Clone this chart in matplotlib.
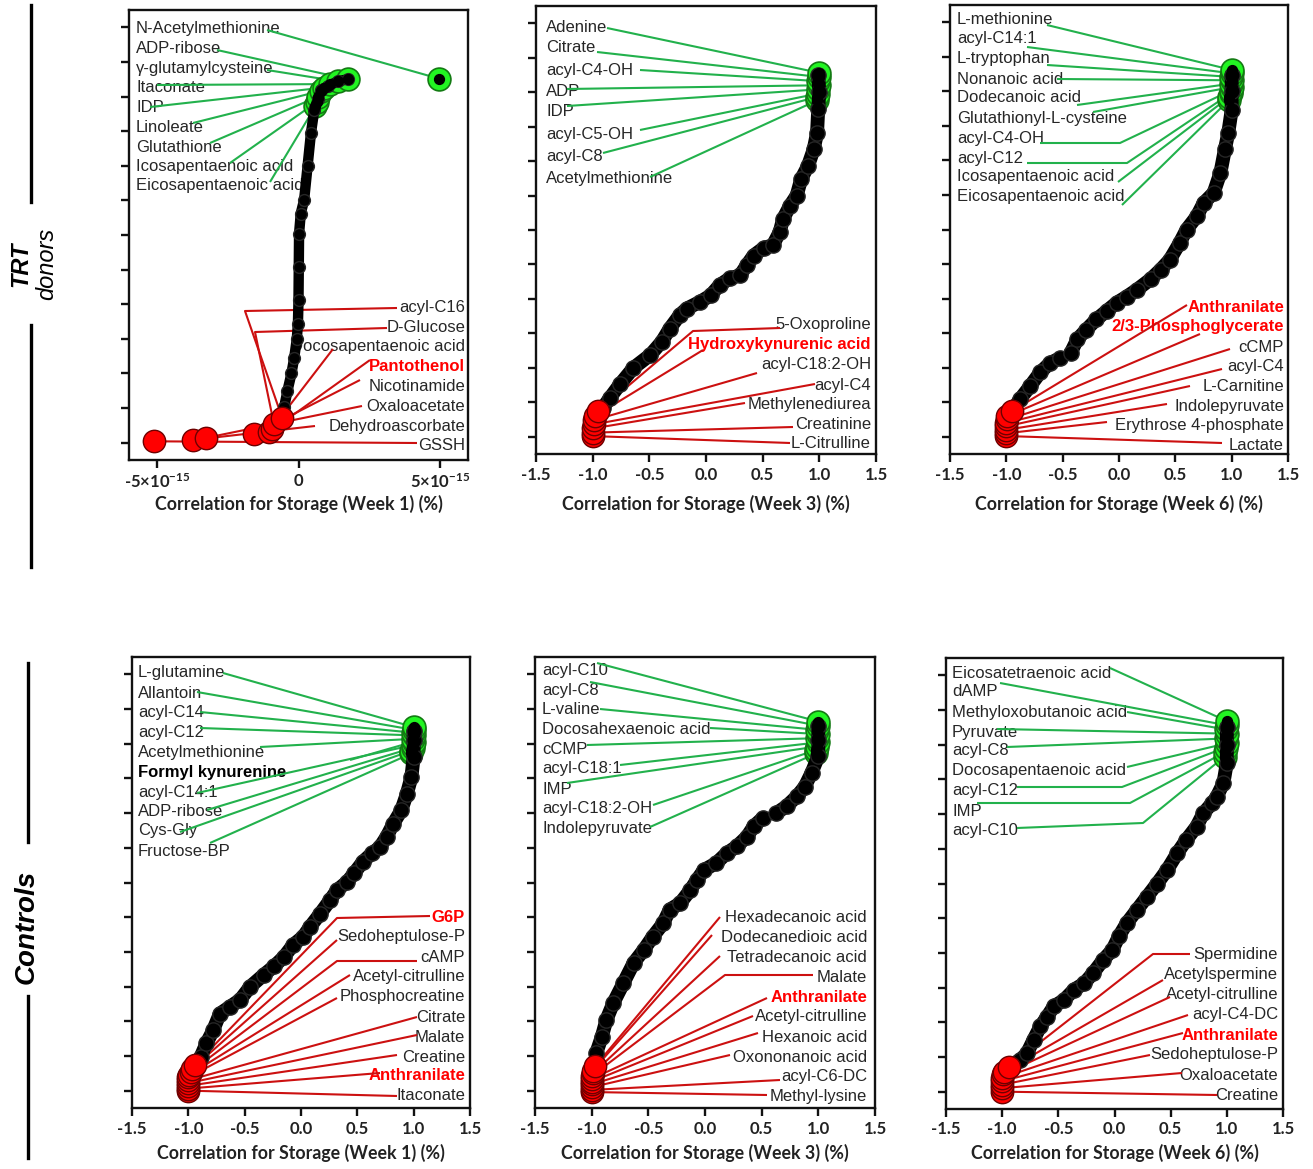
import numpy as np
import matplotlib
matplotlib.use("Agg")
import matplotlib.pyplot as plt
from matplotlib.lines import Line2D

W, H = 1313, 1169
plt.rcParams['mathtext.fontset'] = 'custom'
plt.rcParams['mathtext.rm'] = 'Lato:bold'
plt.rcParams['mathtext.it'] = 'Lato:bold:italic'
plt.rcParams['mathtext.bf'] = 'Lato:bold'

# ======================= DATA =======================
NAN = np.nan
# ---- Panel A: TRT donors, Week 1 (correlation in units of 1e-15) ----
A_UNIT = 1e-15
a_curve_rank = [35, 51, 75, 100, 123, 150, 172, 206, 254, 302, 331, 351, 399, 447, 481, 496, 510, 515, 522, 525]
a_curve_corr = [-0.57, -0.51, -0.39, -0.25, -0.15, -0.06, -0.02, 0.0, 0.01, 0.02, 0.08, 0.20, 0.32, 0.44, 0.56, 0.68, 0.80, 1.04, 1.39, 1.75]
a_green_rank = [526, 525, 522, 518, 513, 508, 500, 492, 486]
a_green_corr = [4.96, 1.75, 1.39, 1.10, 0.90, 0.78, 0.70, 0.64, 0.60]
a_red_rank = [35, 27, 20, 15, 12, 7, 4, 2]
a_red_corr = [-0.57, -0.87, -0.95, -1.05, -1.58, -3.27, -3.73, -5.1]
a_green_labels = ["N-Acetylmethionine", "ADP-ribose", "γ-glutamylcysteine", "Itaconate", "IDP",
                  "Linoleate", "Glutathione", "Icosapentaenoic acid", "Eicosapentaenoic acid"]
a_red_labels = ["acyl-C16", "D-Glucose", "Docosapentaenoic acid", "Pantothenol", "Nicotinamide",
                "Oxaloacetate", "Dehydroascorbate", "GSSH"]
a_red_key = ["Pantothenol"]

# ---- Panel B: TRT donors, Week 3 ----
b_curve_rank = [37, 42, 56, 76, 100, 119, 138, 157, 177, 186, 196, 205, 220, 230, 234, 249, 263, 274, 278,
                297, 316, 335, 350, 374, 393, 417, 441, 475, 500, 525]
b_curve_corr = [-0.95, -0.91, -0.85, -0.76, -0.64, -0.49, -0.39, -0.32, -0.23, -0.17, -0.05, 0.04, 0.12, 0.21,
                0.30, 0.36, 0.42, 0.51, 0.59, 0.65, 0.68, 0.74, 0.80, 0.84, 0.90, 0.95, 0.98, 0.99, 1.0, 0.99]
b_green_rank = [528, 522, 516, 510, 504, 498, 493, 488]
b_green_corr = [1.0, 1.0, 0.99, 1.0, 0.99, 0.99, 0.98, 0.98]
b_red_rank = [37, 30, 24, 18, 12, 6, 1]
b_red_corr = [-0.95, -0.98, -0.99, -0.99, -1.0, -1.0, -1.0]
b_green_labels = ["Adenine", "Citrate", "acyl-C4-OH", "ADP", "IDP", "acyl-C5-OH", "acyl-C8", "Acetylmethionine"]
b_red_labels = ["5-Oxoproline", "Hydroxykynurenic acid", "acyl-C18:2-OH", "acyl-C4", "Methylenediurea",
                "Creatinine", "L-Citrulline"]
b_red_key = ["Hydroxykynurenic acid"]

# ---- Panel C: TRT donors, Week 6 ----
c_curve_rank = [37, 40, 54, 73, 93, 107, 114, NAN, 121, 141, 155, 170, 182, 194, 203, 213, 228, 242, 256, 281,
                300, 319, 338, 353, 382, 416, 440, 473, 500, 524]
c_curve_corr = [-0.95, -0.94, -0.88, -0.79, -0.70, -0.61, -0.52, NAN, -0.43, -0.37, -0.29, -0.20, -0.11, -0.02,
                0.07, 0.16, 0.28, 0.37, 0.45, 0.54, 0.60, 0.69, 0.75, 0.84, 0.90, 0.94, 0.97, 1.0, 1.0, 1.0]
c_green_rank = [531, 526, 521, 516, 511, 506, 501, 497, 492, 488]
c_green_corr = [1.0, 1.0, 0.99, 1.0, 0.99, 1.0, 0.99, 0.99, 0.98, 0.98]
c_red_rank = [37, 30, 25, 20, 15, 10, 5, 1]
c_red_corr = [-0.95, -0.99, -0.99, -1.0, -1.0, -1.0, -1.0, -1.0]
c_green_labels = ["L-methionine", "acyl-C14:1", "L-tryptophan", "Nonanoic acid", "Dodecanoic acid",
                  "Glutathionyl-L-cysteine", "acyl-C4-OH", "acyl-C12", "Icosapentaenoic acid",
                  "Eicosapentaenoic acid"]
c_red_labels = ["Anthranilate", "2/3-Phosphoglycerate", "cCMP", "acyl-C4", "L-Carnitine", "Indolepyruvate",
                "Erythrose 4-phosphate", "Lactate"]
c_red_key = ["Anthranilate", "2/3-Phosphoglycerate"]

# ---- Panel D: Controls, Week 1 ----
d_curve_rank = [37, 49, 68, 87, 111, 121, 131, 150, 167, 179, 193, 210, 222, 236, 255, 275, 289, 301, 313,
                330, 342, 351, 366, 385, 404, 428, 452, 481, 505, 519]
d_curve_corr = [-0.94, -0.89, -0.84, -0.78, -0.72, -0.63, -0.54, -0.45, -0.33, -0.24, -0.15, -0.07, 0.02,
                0.08, 0.17, 0.26, 0.32, 0.41, 0.47, 0.55, 0.63, 0.70, 0.76, 0.82, 0.89, 0.94, 0.98, 1.0, 1.0, 1.0]
d_green_rank = [524, 520, 516, 512, 507, 503, 498, 494, 490, 486]
d_green_corr = [1.0, 1.0, 0.99, 1.0, 0.99, 1.0, 0.99, 0.99, 0.98, 0.98]
d_red_rank = [37, 31, 27, 23, 19, 15, 11, 7, 3, 0]
d_red_corr = [-0.94, -0.97, -0.98, -0.99, -1.0, -1.0, -1.0, -1.0, -1.0, -1.0]
d_green_labels = ["L-glutamine", "Allantoin", "acyl-C14", "acyl-C12", "Acetylmethionine", "Formyl kynurenine",
                  "acyl-C14:1", "ADP-ribose", "Cys-Gly", "Fructose-BP"]
d_green_key = ["Formyl kynurenine"]
d_red_labels = ["G6P", "Sedoheptulose-P", "cAMP", "Acetyl-citrulline", "Phosphocreatine", "Citrate", "Malate",
                "Creatine", "Anthranilate", "Itaconate"]
d_red_key = ["G6P", "Anthranilate"]

# ---- Panel E: Controls, Week 3 ----
e_curve_rank = [35, 54, 78, 102, 126, 155, 184, 203, 222, 241, 261, 270, 289, 304, 318, 328, 342, 352, 366,
                381, 393, NAN, 400, 410, 424, 438, 458, 482, 505, 525]
e_curve_corr = [-0.97, -0.96, -0.91, -0.87, -0.81, -0.72, -0.63, -0.54, -0.46, -0.37, -0.31, -0.22, -0.13,
                -0.07, -0.01, 0.10, 0.19, 0.28, 0.37, 0.43, 0.51, NAN, 0.63, 0.72, 0.81, 0.88, 0.94, 1.0, 1.0, 1.0]
e_green_rank = [532, 526, 520, 514, 508, 502, 496, 491, 486]
e_green_corr = [1.0, 1.0, 0.99, 1.0, 0.99, 1.0, 0.99, 0.98, 0.98]
e_red_rank = [35, 29, 25, 21, 17, 13, 9, 5, 1, -2]
e_red_corr = [-0.97, -0.99, -0.99, -1.0, -1.0, -1.0, -1.0, -1.0, -1.0, -1.0]
e_green_labels = ["acyl-C10", "acyl-C8", "L-valine", "Docosahexaenoic acid", "cCMP", "acyl-C18:1", "IMP",
                  "acyl-C18:2-OH", "Indolepyruvate"]
e_red_labels = ["Hexadecanoic acid", "Dodecanedioic acid", "Tetradecanoic acid", "Malate", "Anthranilate",
                "Acetyl-citrulline", "Hexanoic acid", "Oxononanoic acid", "acyl-C6-DC", "Methyl-lysine"]
e_red_key = ["Anthranilate"]

# ---- Panel F: Controls, Week 6 ----
f_curve_rank = [36, 46, 55, 75, 94, 108, 123, 132, 147, 156, 171, 190, 204, 224, 243, 262, 281, 300, 320,
                344, 363, 382, 401, 416, 425, 445, 474, 500, 526]
f_curve_corr = [-0.94, -0.84, -0.78, -0.72, -0.66, -0.60, -0.54, -0.45, -0.36, -0.27, -0.19, -0.10, -0.02,
                0.04, 0.11, 0.20, 0.29, 0.38, 0.47, 0.56, 0.64, 0.73, 0.79, 0.87, 0.91, 0.97, 1.0, 1.0, 1.0]
f_green_rank = [534, 528, 522, 516, 509, 502, 496, 489, 483]
f_green_corr = [1.0, 1.0, 0.99, 1.0, 0.99, 1.0, 0.99, 0.98, 0.98]
f_red_rank = [36, 29, 25, 20, 15, 10, 5, 0]
f_red_corr = [-0.94, -0.98, -0.99, -1.0, -1.0, -1.0, -1.0, -1.0]
f_green_labels = ["Eicosatetraenoic acid", "dAMP", "Methyloxobutanoic acid", "Pyruvate", "acyl-C8",
                  "Docosapentaenoic acid", "acyl-C12", "IMP", "acyl-C10"]
f_red_labels = ["Spermidine", "Acetylspermine", "Acetyl-citrulline", "acyl-C4-DC", "Anthranilate",
                "Sedoheptulose-P", "Oxaloacetate", "Creatine"]
f_red_key = ["Anthranilate"]

x_titles = ["Correlation for Storage (Week 1) (%)", "Correlation for Storage (Week 3) (%)",
            "Correlation for Storage (Week 6) (%)"]
row_titles = [("TRT", "donors"), ("Controls",)]
corr_ticks = [-1.5, -1.0, -0.5, 0.0, 0.5, 1.0, 1.5]
a_ticks = [-5, 0, 5]
a_ticklabels = [r"-5×10$^{-15}$", "0", r"5×10$^{-15}$"]
rank_ticks = list(range(0, 601, 50))

# ======================= LAYOUT (pixels) =======================
LAYOUT = {
    'A': dict(box=(129, 468, 10, 460),
              gx=136, grows=[29, 49, 68, 88, 108, 127, 147, 167, 186],
              ganc=[(267, 30), (217, 50), (267, 70), (157, 85), (150, 107), (193, 123), (210, 143), (230, 163), (270, 182)],
              gelb={},
              rx=465, rrows=[308, 328, 347, 367, 387, 407, 426, 446],
              ranc=[(397, 308), (387, 328), (333, 349), (370, 360), (360, 380), (362, 406), (315, 426), (417, 443)],
              relb={0: (245, 311), 1: (255, 332)}),
    'B': dict(box=(536, 876, 6, 454),
              gx=546, grows=[27, 48, 70, 91, 112, 134, 156, 178],
              ganc=[(607, 28), (597, 52), (640, 70), (567, 89), (567, 106), (640, 130), (603, 153), (650, 177)],
              gelb={},
              rx=871, rrows=[325, 345, 365, 385, 404, 424, 443],
              ranc=[(780, 328), (703, 350), (757, 373), (815, 384), (745, 403), (793, 427), (790, 443)],
              relb={0: (693, 331)}),
    'C': dict(box=(950, 1288, 5, 454),
              gx=957, grows=[19, 39, 59, 79, 98, 118, 138, 158, 177, 197],
              ganc=[(1047, 25), (1027, 47), (1047, 65), (1057, 79), (1077, 105), (1093, 112), (1040, 143),
                    (1027, 163), (1118, 182), (1122, 205)],
              gelb={6: (1120, 143), 7: (1127, 163)},
              rx=1284, rrows=[307, 327, 347, 367, 387, 407, 426, 446],
              ranc=[(1187, 305), (1200, 334), (1230, 349), (1222, 369), (1190, 386), (1167, 404), (1107, 422), (1222, 443)],
              relb={}),
    'D': dict(box=(132, 470, 657, 1108),
              gx=138, grows=[673, 693, 713, 732, 752, 772, 792, 811, 831, 851],
              ganc=[(223, 673), (197, 692), (200, 712), (200, 728), (260, 747), (350, 760), (197, 793), (207, 810),
                    (180, 832), (210, 843)],
              gelb={},
              rx=465, rrows=[917, 937, 957, 977, 997, 1017, 1037, 1057, 1076, 1096],
              ranc=[(430, 916), (337, 940), (417, 961), (350, 975), (337, 998), (417, 1017), (417, 1035), (397, 1055),
                    (380, 1073), (397, 1096)],
              relb={0: (337, 918), 2: (337, 961)}),
    'E': dict(box=(535, 875, 657, 1108),
              gx=542, grows=[670, 690, 710, 730, 750, 769, 789, 809, 828],
              ganc=[(597, 663), (590, 682), (600, 709), (710, 728), (587, 745), (620, 765), (567, 783), (653, 805), (650, 827)],
              gelb={},
              rx=867, rrows=[917, 937, 957, 977, 997, 1017, 1037, 1057, 1077, 1097],
              ranc=[(720, 917), (712, 935), (720, 956), (813, 975), (767, 998), (753, 1016), (758, 1033), (730, 1055),
                    (780, 1080), (767, 1095)],
              relb={3: (725, 975)}),
    'F': dict(box=(946, 1283, 658, 1109),
              gx=952, grows=[673, 692, 712, 732, 751, 771, 791, 811, 830],
              ganc=[(1110, 668), (1000, 683), (1127, 712), (997, 729), (1007, 747), (1127, 767), (1017, 787), (977, 803),
                    (1017, 828)],
              gelb={6: (1122, 787), 7: (1130, 803), 8: (1143, 823)},
              rx=1278, rrows=[955, 975, 995, 1015, 1035, 1055, 1075, 1095],
              ranc=[(1190, 954), (1163, 980), (1170, 997), (1188, 1015), (1183, 1033), (1150, 1055), (1182, 1073),
                    (1217, 1095)],
              relb={0: (1153, 954)}),
}

GREEN_LINE = '#22b14c'
RED_LINE = '#cc1010'
TEXT_COL = '#262626'
LBL_FONT = 'Liberation Sans'
AX_FONT = 'Lato'

fig = plt.figure(figsize=(W / 100, H / 100), dpi=100)


def px2data(ax, px, py):
    return ax.transData.inverted().transform((px, H - py))


def draw_panel(key, curve_r, curve_x, g_r, g_x, r_r, r_x, g_lab, r_lab, g_key, r_key, title, unit=1.0):
    L = LAYOUT[key]
    l, r, t, b = L['box']
    ax = fig.add_axes([l / W, 1 - b / H, (r - l) / W, (b - t) / H])
    curve_x = np.array(curve_x, dtype=float) * unit
    g_x = np.array(g_x, dtype=float) * unit
    r_x = np.array(r_x, dtype=float) * unit
    if unit == 1.0:
        ax.set_xlim(-1.5, 1.5)
        ax.set_xticks(corr_ticks)
        ax.set_xticklabels([f"{v:.1f}" for v in corr_ticks])
        lw_curve, ms_curve = 10, 11
    else:
        ax.set_xlim(-6 * unit, 6 * unit)
        ax.set_xticks(np.array(a_ticks) * unit)
        ax.set_xticklabels(a_ticklabels)
        lw_curve, ms_curve = 7.5, 8.5
    ax.set_ylim(-25, 625)
    ax.set_yticks(rank_ticks)
    ax.set_yticklabels([])
    for s in ax.spines.values():
        s.set_linewidth(1.7)
        s.set_color('#111111')
    ax.tick_params(axis='both', direction='out', length=5.5, width=1.7, color='#111111')
    ax.tick_params(axis='x', pad=3.5, labelsize=12)
    for tl in ax.get_xticklabels():
        tl.set_fontfamily(AX_FONT)
        tl.set_fontweight('bold')
        tl.set_color('#222222')

    # black curve
    ax.plot(curve_x, curve_r, '-o', color='black', lw=lw_curve, ms=ms_curve, mfc='black', mec='#262626',
            mew=1.0, solid_capstyle='round', solid_joinstyle='round', zorder=4)
    # green highlights (draw bottom first)
    ax.scatter(g_x[::-1], np.array(g_r)[::-1], s=270, c='#22f522', edgecolors='#137a13', linewidths=1.2, zorder=3)
    ax.scatter(g_x, g_r, s=50, c='black', zorder=4)
    # red highlights
    ax.scatter(r_x[::-1], np.array(r_r)[::-1], s=260, c='#ff0000', edgecolors='#6e0000', linewidths=1.0, zorder=5)

    # green labels + leader lines
    for i, name in enumerate(g_lab):
        tx, ty = px2data(ax, L['gx'], L['grows'][i])
        bold = name in g_key
        ax.text(tx, ty, name, ha='left', va='center', fontsize=12, family=LBL_FONT,
                fontweight='bold' if bold else 'normal', color='black' if bold else TEXT_COL, zorder=1)
        pts = [px2data(ax, *L['ganc'][i])]
        if i in L['gelb']:
            pts.append(px2data(ax, *L['gelb'][i]))
        pts.append((g_x[i], g_r[i]))
        pts = np.array(pts)
        ax.plot(pts[:, 0], pts[:, 1], color=GREEN_LINE, lw=1.5, zorder=2, solid_capstyle='butt')

    # red labels + leader lines
    for i, name in enumerate(r_lab):
        tx, ty = px2data(ax, L['rx'], L['rrows'][i])
        bold = name in r_key
        ax.text(tx, ty, name, ha='right', va='center', fontsize=12, family=LBL_FONT,
                fontweight='bold' if bold else 'normal', color='#ff0000' if bold else TEXT_COL, zorder=1)
        pts = [px2data(ax, *L['ranc'][i])]
        if i in L['relb']:
            pts.append(px2data(ax, *L['relb'][i]))
        pts.append((r_x[i], r_r[i]))
        pts = np.array(pts)
        ax.plot(pts[:, 0], pts[:, 1], color=RED_LINE, lw=1.5, zorder=2, solid_capstyle='butt')

    # x title
    ylab_px = 504 if b < 600 else 1153
    ax.text(0.5, (b - ylab_px) / (b - t), title, transform=ax.transAxes, ha='center', va='center',
            fontsize=12.8, family=AX_FONT, fontweight='bold', color='#222222')
    return ax


draw_panel('A', a_curve_rank, a_curve_corr, a_green_rank, a_green_corr, a_red_rank, a_red_corr,
           a_green_labels, a_red_labels, [], a_red_key, x_titles[0], unit=A_UNIT)
draw_panel('B', b_curve_rank, b_curve_corr, b_green_rank, b_green_corr, b_red_rank, b_red_corr,
           b_green_labels, b_red_labels, [], b_red_key, x_titles[1])
draw_panel('C', c_curve_rank, c_curve_corr, c_green_rank, c_green_corr, c_red_rank, c_red_corr,
           c_green_labels, c_red_labels, [], c_red_key, x_titles[2])
draw_panel('D', d_curve_rank, d_curve_corr, d_green_rank, d_green_corr, d_red_rank, d_red_corr,
           d_green_labels, d_red_labels, d_green_key, d_red_key, x_titles[0])
draw_panel('E', e_curve_rank, e_curve_corr, e_green_rank, e_green_corr, e_red_rank, e_red_corr,
           e_green_labels, e_red_labels, [], e_red_key, x_titles[1])
draw_panel('F', f_curve_rank, f_curve_corr, f_green_rank, f_green_corr, f_red_rank, f_red_corr,
           f_green_labels, f_red_labels, [], f_red_key, x_titles[2])

# row titles and separator lines
def fpt(px, py):
    return px / W, 1 - py / H

fig.text(*fpt(21, 264), row_titles[0][0], rotation=90, ha='center', va='center', fontsize=17,
         family='Liberation Sans', fontweight='bold', style='italic', color='black')
fig.text(*fpt(47, 264), row_titles[0][1], rotation=90, ha='center', va='center', fontsize=17,
         family='Liberation Sans', fontweight='normal', style='italic', color='black')
fig.text(*fpt(27, 927), row_titles[1][0], rotation=90, ha='center', va='center', fontsize=20,
         family='Liberation Sans', fontweight='bold', style='italic', color='black')
for (x0, y0, y1) in [(31, 5, 202), (31, 325, 567), (28, 663, 842), (28, 996, 1158)]:
    fig.add_artist(Line2D([x0 / W, x0 / W], [1 - y0 / H, 1 - y1 / H], color='black', lw=2.4,
                          transform=fig.transFigure))

fig.savefig('out.png', dpi=100)
